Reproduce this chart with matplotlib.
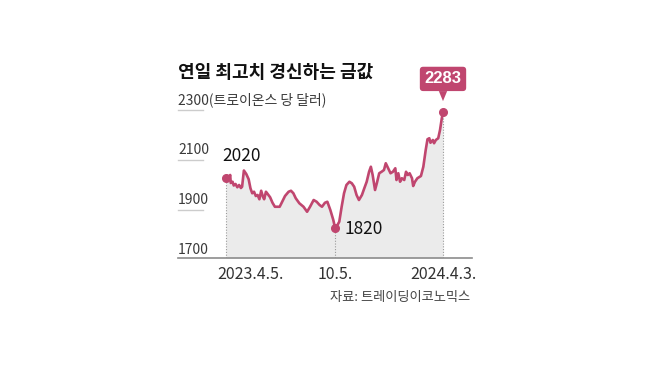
import matplotlib.pyplot as plt
import matplotlib.dates as mdates
import matplotlib.transforms as mtransforms
import pandas as pd

plt.rcParams['font.family'] = ['Liberation Sans Narrow', 'Noto Sans CJK KR', 'DejaVu Sans']

# gold price, USD per troy ounce
dates = [
    '2023-04-05', '2023-04-09', '2023-04-12', '2023-04-13', '2023-04-16', '2023-04-18',
    '2023-04-21', '2023-04-24', '2023-04-27', '2023-04-30', '2023-05-02', '2023-05-05',
    '2023-05-09', '2023-05-13', '2023-05-16', '2023-05-19', '2023-05-22', '2023-05-25',
    '2023-05-28', '2023-05-31', '2023-06-03', '2023-06-06', '2023-06-08', '2023-06-11',
    '2023-06-13', '2023-06-18', '2023-06-22', '2023-06-26', '2023-07-04', '2023-07-07',
    '2023-07-13', '2023-07-19', '2023-07-23', '2023-07-27', '2023-07-31', '2023-08-06',
    '2023-08-13', '2023-08-19', '2023-08-24', '2023-08-30', '2023-09-04', '2023-09-09',
    '2023-09-13', '2023-09-18', '2023-09-22', '2023-09-27', '2023-10-02', '2023-10-05',
    '2023-10-08', '2023-10-12', '2023-10-16', '2023-10-20', '2023-10-24', '2023-10-29',
    '2023-11-02', '2023-11-06', '2023-11-10', '2023-11-14', '2023-11-19', '2023-11-23',
    '2023-11-27', '2023-12-01', '2023-12-04', '2023-12-07', '2023-12-11', '2023-12-14',
    '2023-12-18', '2023-12-22', '2023-12-26', '2023-12-29', '2024-01-02', '2024-01-06',
    '2024-01-10', '2024-01-14', '2024-01-16', '2024-01-19', '2024-01-22', '2024-01-25',
    '2024-01-29', '2024-02-01', '2024-02-04', '2024-02-07', '2024-02-11', '2024-02-13',
    '2024-02-16', '2024-02-20', '2024-02-26', '2024-03-01', '2024-03-05', '2024-03-08',
    '2024-03-11', '2024-03-13', '2024-03-17', '2024-03-19', '2024-03-22', '2024-03-26',
    '2024-03-29', '2024-04-01', '2024-04-03',
]
prices = [
    2020, 2012, 2032, 2000, 2005, 1990,
    1996, 1983, 1992, 1980, 1985, 2050,
    2036, 2015, 1979, 1959, 1965, 1948,
    1952, 1935, 1969, 1945, 1935, 1965,
    1959, 1943, 1921, 1905, 1905, 1919,
    1948, 1965, 1969, 1959, 1939, 1919,
    1905, 1885, 1905, 1932, 1925, 1912,
    1905, 1921, 1925, 1892, 1852, 1820,
    1828, 1845, 1905, 1959, 1992, 2005,
    1999, 1985, 1952, 1932, 1952, 1979,
    2005, 2045, 2065, 2032, 1972, 1999,
    2039, 2045, 2052, 2079, 2059, 2039,
    2045, 2059, 2012, 2039, 2005, 2019,
    2012, 2045, 2032, 2039, 2019, 1988,
    2005, 2019, 2028, 2065, 2132, 2175,
    2179, 2161, 2172, 2159, 2172, 2179,
    2212, 2259, 2283,
]

y_ticks = [1700, 1900, 2100, 2300]
y_tick_labels = ['1700', '1900', '2100', '2300(트로이온스 당 달러)']
x_tick_dates = ['2023-04-05', '2023-10-05', '2024-04-03']
x_tick_labels = ['2023.4.5.', '10.5.', '2024.4.3.']
title = '연일 최고치 경신하는 금값'
source = '자료: 트레이딩이코노믹스'

LINE = '#c0466f'
FILL = '#ebebeb'

fig = plt.figure(figsize=(6.56, 3.84), dpi=100)
ax = fig.add_axes([178 / 656, 126 / 384, 294 / 656, 175 / 384])

x = mdates.date2num(pd.to_datetime(dates))
day_px = (x[-1] - x[0]) / 217  # days per pixel
ax.set_xlim(x[0] - 48 * day_px, x[-1] + 29 * day_px)
ax.set_ylim(1700, 2400)

ax.fill_between(x, prices, 1700, color=FILL, lw=0)
ax.plot(x, prices, color=LINE, lw=1.9, solid_joinstyle='round')

i_min = prices.index(min(prices))
keys = [0, i_min, len(prices) - 1]
for i in keys:
    ax.vlines(x[i], 1700, prices[i], colors='#9a9a9a', linestyles=(0, (1, 1.5)), lw=0.8)
ax.plot([x[i] for i in keys], [prices[i] for i in keys], 'o', color=LINE, ms=5.5)

for s in ['top', 'right', 'left']:
    ax.spines[s].set_visible(False)
ax.spines['bottom'].set_color('#8c8c8c')
ax.spines['bottom'].set_linewidth(1.2)
ax.set_xticks([])
ax.set_yticks([])

# y labels sit on short rules at the left edge
trans = mtransforms.blended_transform_factory(ax.transAxes, ax.transData)
for v, lab in zip(y_ticks, y_tick_labels):
    ax.text(0, v + 4, lab, transform=trans, ha='left', va='bottom', fontsize=10, color='#3a3a3a')
    if v != 1700:
        ax.plot([0, 25 / 294], [v - 8, v - 8], transform=trans, color='#cccccc', lw=1, clip_on=False)

# x labels
for d, lab in zip(x_tick_dates, x_tick_labels):
    xd = mdates.date2num(pd.Timestamp(d))
    ha = 'left' if lab == x_tick_labels[0] else 'center'
    dx = -6 if ha == 'left' else 0
    ax.annotate(lab, (xd, 0), xycoords=('data', 'axes fraction'), xytext=(dx, -6),
                textcoords='offset points', ha=ha, va='top', fontsize=11.5, color='#333333')

ax.annotate(str(prices[0]), (x[0], prices[0]), xytext=(-3, 9), textcoords='offset points',
            ha='left', va='bottom', fontsize=12.5, color='#111111')
ax.annotate(str(prices[i_min]), (x[i_min], prices[i_min]), xytext=(7, -1), textcoords='offset points',
            ha='left', va='center', fontsize=12.5, color='#111111')

ax.annotate(str(prices[-1]), (x[-1], prices[-1]), xytext=(0, 24), textcoords='offset points',
            ha='center', va='center', fontsize=12, fontweight='bold', color='white',
            family=['Liberation Sans', 'DejaVu Sans'],
            bbox=dict(boxstyle='round,pad=0.28,rounding_size=0.2', fc=LINE, ec='none'),
            arrowprops=dict(arrowstyle='wedge,tail_width=0.5', fc=LINE, ec='none',
                            shrinkA=0, shrinkB=8),
            annotation_clip=False)

fig.text(178 / 656, 1 - 72 / 384, title, fontsize=13, fontweight='bold', va='center',
         color='#111111', family=['Noto Sans CJK KR', 'DejaVu Sans'])
fig.text(470 / 656, 1 - 298 / 384, source, ha='right', va='center', fontsize=9.5,
         color='#444444', family=['Noto Sans CJK KR', 'DejaVu Sans'])

fig.savefig('out.png', dpi=100, facecolor='white')
